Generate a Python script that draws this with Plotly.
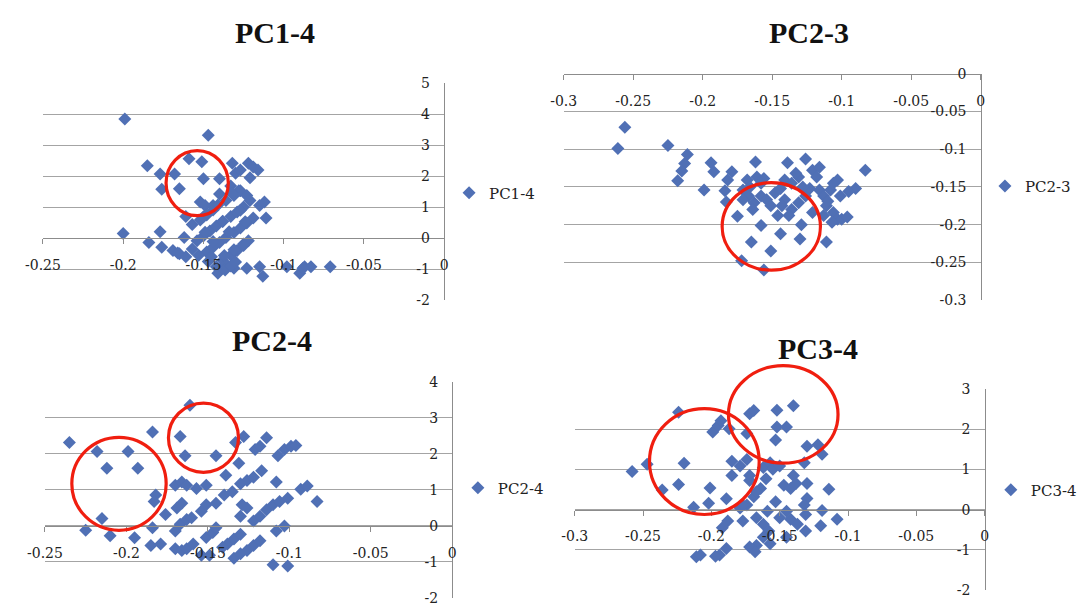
import plotly.graph_objects as go

W, H = 1082, 606

# ---------------- data ----------------
pc14_x = [-0.199, -0.147, -0.200, -0.185, -0.177, -0.176, -0.168, -0.165, -0.159, -0.151,
          -0.150, -0.140, -0.140, -0.177, -0.184, -0.176, -0.169, -0.162, -0.161, -0.152,
          -0.149, -0.144, -0.132, -0.130, -0.127, -0.122, -0.119, -0.116, -0.121, -0.133,
          -0.127, -0.123, -0.121, -0.115, -0.112, -0.111,
          -0.157, -0.152, -0.148, -0.144, -0.136, -0.131, -0.128,
          -0.154, -0.150, -0.146, -0.142, -0.138, -0.133, -0.129, -0.125,
          -0.148, -0.144, -0.140, -0.136, -0.131, -0.127, -0.123, -0.119,
          -0.142, -0.138, -0.133, -0.129, -0.125, -0.122,
          -0.141, -0.131, -0.123, -0.115, -0.113, -0.098, -0.090, -0.087, -0.083, -0.071, -0.088,
          -0.165, -0.161, -0.157, -0.153, -0.147, -0.136, -0.145,
          -0.150, -0.141, -0.132, -0.149, -0.138, -0.127, -0.144, -0.134, -0.124,
          -0.137, -0.131, -0.125, -0.1365, -0.133, -0.130, -0.166]
pc14_y = [3.85, 3.33, 0.15, 2.34, 2.07, 1.58, 2.07, 1.60, 2.57, 2.47,
          1.92, 1.92, 1.43, 0.21, -0.14, -0.29, -0.40, 0.02, 0.70, 1.17,
          1.06, 1.06, 2.42, 2.10, 2.20, 2.42, 2.30, 2.20, 1.95, 1.69,
          1.53, 1.38, 1.22, 1.06, 1.17, 0.65,
          0.44, 0.59, 0.75, 0.91, 1.22, 1.38, 1.53,
          -0.08, 0.07, 0.23, 0.39, 0.54, 0.70, 0.85, 1.01,
          -0.45, -0.29, -0.14, 0.02, 0.18, 0.33, 0.49, 0.65,
          -0.92, -0.71, -0.55, -0.40, -0.24, -0.08,
          -1.13, -0.97, -0.97, -0.92, -1.23, -0.92, -1.13, -0.92, -0.92, -0.92, -0.97,
          -0.50, -0.60, -0.35, -0.55, -0.75, -0.85, -0.60,
          0.69, 1.07, 1.45, 0.19, 0.55, 0.90, -0.11, 0.21, 0.53,
          -0.56, -0.37, -0.19, -1.03, -0.90, -0.77, -0.48]

pc23_x = [-0.256, -0.261, -0.225, -0.211, -0.213, -0.215, -0.218, -0.199, -0.194, -0.192,
          -0.179, -0.182, -0.184, -0.183, -0.175, -0.172, -0.156, -0.165, -0.158, -0.151,
          -0.144, -0.130, -0.129, -0.111, -0.162, -0.139, -0.126, -0.083, -0.090, -0.095,
          -0.168, -0.166, -0.161, -0.156, -0.167, -0.163, -0.171, -0.158, -0.154, -0.148,
          -0.144, -0.141, -0.136, -0.131, -0.126, -0.123, -0.131, -0.133, -0.121, -0.116,
          -0.118, -0.116, -0.113, -0.108, -0.106, -0.103, -0.101, -0.111, -0.106, -0.103,
          -0.100, -0.096, -0.107, -0.138, -0.143, -0.151, -0.146, -0.158, -0.171, -0.164,
          -0.141, -0.136, -0.128, -0.121, -0.113, -0.110]
pc23_y = [-0.071, -0.099, -0.095, -0.107, -0.119, -0.129, -0.142, -0.154, -0.118, -0.130,
          -0.130, -0.141, -0.155, -0.170, -0.189, -0.248, -0.260, -0.223, -0.201, -0.235,
          -0.212, -0.219, -0.200, -0.223, -0.117, -0.118, -0.113, -0.128, -0.152, -0.156,
          -0.141, -0.150, -0.137, -0.139, -0.162, -0.171, -0.167, -0.162, -0.167, -0.158,
          -0.152, -0.167, -0.180, -0.171, -0.162, -0.152, -0.137, -0.132, -0.128, -0.124,
          -0.137, -0.154, -0.162, -0.154, -0.145, -0.141, -0.162, -0.175, -0.184, -0.193,
          -0.193, -0.190, -0.197, -0.188, -0.175, -0.175, -0.188, -0.145, -0.154, -0.180,
          -0.141, -0.145, -0.150, -0.184, -0.188, -0.169]

pc24_x = [-0.235, -0.218, -0.212, -0.199, -0.193, -0.184, -0.167, -0.164, -0.161, -0.145,
          -0.133, -0.128, -0.131, -0.139, -0.114, -0.121, -0.118, -0.107, -0.103, -0.099,
          -0.096, -0.108, -0.093, -0.089, -0.083, -0.215, -0.225, -0.210, -0.195, -0.185,
          -0.179, -0.184, -0.182, -0.183, -0.176, -0.170, -0.166, -0.163, -0.157, -0.151,
          -0.169, -0.166, -0.154, -0.151, -0.145, -0.140, -0.135, -0.130, -0.126, -0.122,
          -0.117, -0.129, -0.126, -0.130, -0.122, -0.118, -0.114, -0.110, -0.106, -0.101,
          -0.108, -0.103, -0.170, -0.167, -0.163, -0.160, -0.170, -0.166, -0.163, -0.159,
          -0.154, -0.149, -0.151, -0.147, -0.145, -0.138, -0.134, -0.130, -0.134, -0.130,
          -0.126, -0.122, -0.118, -0.110, -0.101, -0.141]
pc24_y = [2.32, 2.07, 1.60, 2.07, 1.60, 2.61, 2.48, 1.95, 3.35, 1.95,
          2.32, 2.48, 1.74, 1.41, 2.45, 2.12, 2.21, 1.95, 2.12, 2.21,
          2.23, 1.22, 1.02, 1.11, 0.68, 0.21, -0.12, -0.27, -0.33, -0.54,
          -0.50, -0.05, 0.86, 0.68, 0.32, 1.13, 1.22, 1.13, 1.04, 1.13,
          0.50, 0.63, 0.41, 0.59, 0.63, 0.86, 0.95, 1.17, 1.26, 1.35,
          1.53, 0.59, 0.50, 0.27, 0.14, 0.27, 0.45, 0.59, 0.68, 0.77,
          -0.14, 0.00, -0.14, 0.05, 0.18, 0.23, -0.63, -0.68, -0.63, -0.50,
          -0.81, -0.81, -0.32, -0.18, -0.05, -0.50, -0.36, -0.23, -0.90, -0.77,
          -0.68, -0.54, -0.41, -1.08, -1.11, -0.59]

pc34_x = [-0.258, -0.247, -0.220, -0.224, -0.236, -0.224, -0.213, -0.201, -0.202, -0.189,
          -0.199, -0.195, -0.193, -0.187, -0.185, -0.185, -0.179, -0.174, -0.172, -0.169,
          -0.152, -0.140, -0.152, -0.145, -0.153, -0.174, -0.172, -0.162, -0.157, -0.155,
          -0.150, -0.130, -0.122, -0.119, -0.132, -0.140, -0.147, -0.142, -0.138, -0.130,
          -0.114, -0.130, -0.132, -0.119, -0.108, -0.120, -0.131, -0.131, -0.145, -0.142,
          -0.137, -0.145, -0.150, -0.153, -0.159, -0.167, -0.162, -0.158, -0.157, -0.162,
          -0.167, -0.172, -0.168, -0.177, -0.179, -0.174, -0.169, -0.164, -0.167, -0.188,
          -0.192, -0.189, -0.194, -0.197, -0.211, -0.208, -0.160, -0.177, -0.172]
pc34_y = [0.95, 1.13, 1.16, 2.43, 0.49, 0.63, 0.06, 0.54, 0.16, 0.27,
          1.94, 2.10, 2.22, 2.02, 1.21, 0.85, 1.09, 1.90, 2.39, 2.47,
          2.48, 2.59, 2.06, 2.06, 1.74, 1.25, 0.73, 1.05, 1.17, 1.01,
          1.09, 1.58, 1.62, 1.38, 1.17, 0.85, 0.61, 0.53, 0.65, 0.65,
          0.51, 0.28, 0.12, -0.02, -0.24, -0.40, -0.12, -0.53, -0.04, -0.24,
          -0.36, -0.69, -0.20, 0.20, -0.04, -0.20, -0.36, -0.53, -0.85, -0.69,
          -0.89, -0.93, -1.05, -0.28, 0.04, 0.12, 0.32, 0.53, 0.45, -0.28,
          -0.45, -0.97, -1.13, -1.16, -1.17, -1.13, 0.77, 0.12, 0.85]

panel_names = ["PC1-4", "PC2-3", "PC2-4", "PC3-4"]
panel_x = [pc14_x, pc23_x, pc24_x, pc34_x]
panel_y = [pc14_y, pc23_y, pc24_y, pc34_y]

x_ranges = [[-0.25, 0], [-0.3, 0], [-0.25, 0], [-0.3, 0]]
y_ranges = [[-2, 5], [-0.3, 0], [-2, 4], [-2, 3]]
x_tickvals = [[-0.25, -0.2, -0.15, -0.1, -0.05, 0],
              [-0.3, -0.25, -0.2, -0.15, -0.1, -0.05, 0],
              [-0.25, -0.2, -0.15, -0.1, -0.05, 0],
              [-0.3, -0.25, -0.2, -0.15, -0.1, -0.05, 0]]
x_ticktext = [["-0.25", "-0.2", "-0.15", "-0.1", "-0.05", "0"],
              ["-0.3", "-0.25", "-0.2", "-0.15", "-0.1", "-0.05", "0"],
              ["-0.25", "-0.2", "-0.15", "-0.1", "-0.05", "0"],
              ["-0.3", "-0.25", "-0.2", "-0.15", "-0.1", "-0.05", "0"]]
y_tickvals = [[-2, -1, 0, 1, 2, 3, 4, 5],
              [-0.3, -0.25, -0.2, -0.15, -0.1, -0.05, 0],
              [-2, -1, 0, 1, 2, 3, 4],
              [-2, -1, 0, 1, 2, 3]]
y_ticktext = [["-2", "-1", "0", "1", "2", "3", "4", "5"],
              ["-0.3", "-0.25", "-0.2", "-0.15", "-0.1", "-0.05", "0"],
              ["-2", "-1", "0", "1", "2", "3", "4"],
              ["-2", "-1", "0", "1", "2", "3"]]

# highlight circles: (panel index, x0, x1, y0, y1) in data units
circle_panel = [0, 1, 2, 2, 3, 3]
circle_x0 = [-0.1733, -0.186, -0.2335, -0.1742, -0.2453, -0.1875]
circle_x1 = [-0.1345, -0.1153, -0.1756, -0.1312, -0.1650, -0.1073]
circle_y0 = [0.73, -0.2604, -0.12, 1.49, -0.12, 1.16]
circle_y1 = [2.83, -0.1444, 2.46, 3.41, 2.52, 3.59]

# ---------------- layout geometry (pixels) ----------------
plot_px_x = [[25.5, 435], [557, 982.7], [27.5, 443.3], [568.3, 986.7]]
plot_px_y = [[77.5, 300], [67.5, 300], [384, 606], [391.7, 597.7]]
title_px = [(262, 25), (807, 25), (259, 342), (817, 350)]
legend_px = [(440, 190), (987, 183), (449, 493), (993, 495)]

MARKER = "#5070b5"
GRID = "#a4a4a4"
AXIS = "#8c8c8c"
FONT = "DejaVu Serif"

fig = go.Figure()
layout = dict(width=W, height=H, margin=dict(l=0, r=0, t=0, b=0),
              paper_bgcolor="white", plot_bgcolor="white", showlegend=True)
annotations = []
shapes = []

for i in range(4):
    n = "" if i == 0 else str(i + 1)
    xd = [plot_px_x[i][0] / W, plot_px_x[i][1] / W]
    yd = [max(0.0, 1 - plot_px_y[i][1] / H), 1 - plot_px_y[i][0] / H]
    ymin, ymax = y_ranges[i]
    xpos = yd[0] + (0 - ymin) / (ymax - ymin) * (yd[1] - yd[0])
    leg = "legend" if i == 0 else "legend" + n

    fig.add_trace(go.Scatter(
        x=panel_x[i], y=panel_y[i], mode="markers", name=panel_names[i],
        marker=dict(symbol="diamond", size=10, color=MARKER, line=dict(width=0)),
        xaxis="x" + n, yaxis="y" + n, legend=leg, cliponaxis=False,
        hoverinfo="x+y"))

    layout["xaxis" + n] = dict(
        domain=xd, range=x_ranges[i], anchor="free", position=xpos,
        showline=True, linecolor=AXIS, linewidth=1, showgrid=False, zeroline=False,
        ticks="outside", ticklen=5, tickcolor=AXIS,
        tickvals=x_tickvals[i], ticktext=x_ticktext[i],
        tickfont=dict(family=FONT, size=14, color="#222"),
        ticklabelstandoff=9, fixedrange=True)
    layout["yaxis" + n] = dict(
        domain=yd, range=y_ranges[i], anchor="x" + n, side="right",
        showline=True, linecolor=AXIS, linewidth=1,
        showgrid=True, gridcolor=GRID, gridwidth=1, zeroline=False,
        ticks="", tickvals=y_tickvals[i], ticktext=y_ticktext[i],
        ticklabelposition="inside", ticklabeloverflow="allow",
        ticklabelstandoff=14,
        tickfont=dict(family=FONT, size=14, color="#222"), fixedrange=True)

    layout[leg] = dict(x=legend_px[i][0] / W, y=1 - legend_px[i][1] / H,
                       xanchor="left", yanchor="middle", bgcolor="rgba(0,0,0,0)",
                       borderwidth=0, itemwidth=30,
                       font=dict(family=FONT, size=15, color="#222"))

    annotations.append(dict(
        text="<b>%s</b>" % panel_names[i], xref="paper", yref="paper",
        x=title_px[i][0] / W, y=1 - title_px[i][1] / H, xanchor="center", yanchor="middle",
        showarrow=False, font=dict(family="Liberation Serif", size=30, color="#111")))

for k in range(len(circle_panel)):
    i = circle_panel[k]
    n = "" if i == 0 else str(i + 1)
    xmin, xmax = x_ranges[i]
    ymin, ymax = y_ranges[i]
    shapes.append(dict(
        type="circle", xref="x%s domain" % n, yref="y%s domain" % n,
        x0=(circle_x0[k] - xmin) / (xmax - xmin), x1=(circle_x1[k] - xmin) / (xmax - xmin),
        y0=(circle_y0[k] - ymin) / (ymax - ymin), y1=(circle_y1[k] - ymin) / (ymax - ymin),
        line=dict(color="#f01e0f", width=3.2), fillcolor="rgba(0,0,0,0)"))

layout["annotations"] = annotations
layout["shapes"] = shapes
fig.update_layout(**layout)
fig.write_html("out.html", config={"displayModeBar": False},
               post_script="document.body.style.margin='0';document.body.style.overflow='hidden';")
